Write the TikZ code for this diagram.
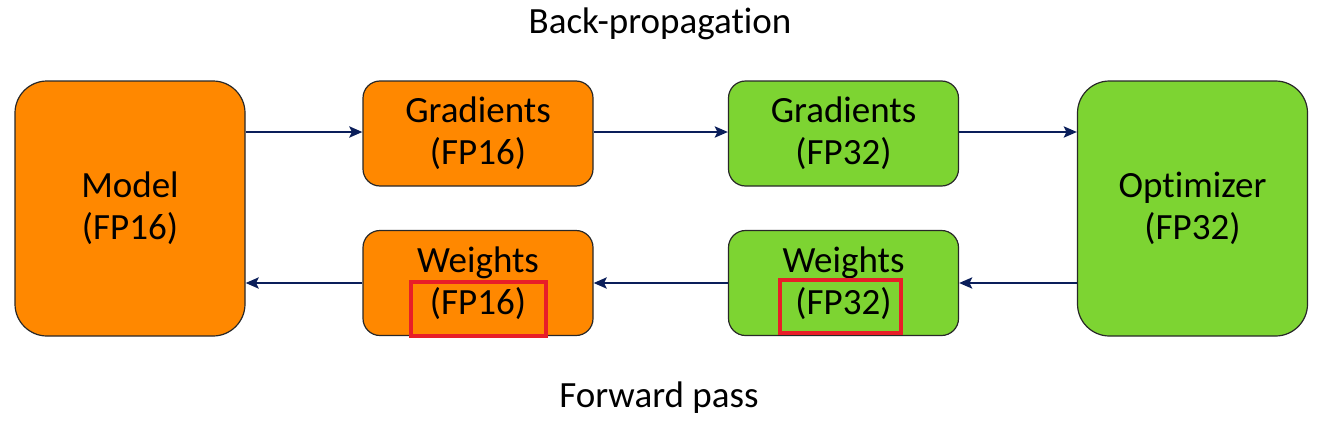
\documentclass[tikz,border=0pt]{standalone}
\usepackage{fontspec}
\setmainfont{Carlito}[Ligatures=NoCommon]
\usetikzlibrary{arrows.meta}
\definecolor{boxorange}{RGB}{255,136,0}
\definecolor{boxgreen}{RGB}{125,212,50}
\definecolor{arrowblue}{RGB}{10,30,90}
\definecolor{hlred}{RGB}{232,30,40}
\definecolor{edgegray}{RGB}{40,40,40}
\begin{document}
\begin{tikzpicture}[x=1pt,y=-1pt,
  boxbase/.style={draw=edgegray, line width=1.2pt, align=center, inner sep=0pt,
    font=\fontsize{37}{42}\selectfont},
  bigbox/.style={boxbase, rounded corners=32pt, minimum width=230pt, minimum height=255pt},
  smallbox/.style={boxbase, rounded corners=17pt, minimum width=230pt, minimum height=105pt},
  orangefill/.style={fill=boxorange},
  greenfill/.style={fill=boxgreen},
  conn/.style={draw=arrowblue, line width=2.6pt, -{Stealth[length=13pt,width=11pt,inset=2.5pt]}},
  redbox/.style={draw=hlred, line width=4.5pt, inner sep=0pt},
  caption/.style={font=\fontsize{37}{42}\selectfont, anchor=base, inner sep=0pt}
]
\useasboundingbox (0,0) rectangle (1337,423);
\node[bigbox, orangefill] (model) at (130,208.5) {Model\\(FP16)};
\node[bigbox, greenfill] (opt) at (1192.5,208.5) {Optimizer\\(FP32)};
\node[smallbox, orangefill] (g16) at (478,133.5) {Gradients\\(FP16)};
\node[smallbox, greenfill] (g32) at (843.5,133.5) {Gradients\\(FP32)};
\node[smallbox, orangefill] (w16) at (478,283) {Weights\\(FP16)};
\node[smallbox, greenfill] (w32) at (843.5,283) {Weights\\(FP32)};
\node[redbox, minimum width=135pt, minimum height=54pt] (r16) at (478.5,309) {};
\node[redbox, minimum width=121pt, minimum height=53pt] (r32) at (840.5,306.5) {};
\node[caption] (bp) at (660,33) {Back-propagation};
\node[caption] (fp) at (659,407) {Forward pass};
\draw[conn] (model.east |- 0,132) -- (g16.west |- 0,132);
\draw[conn] (g16.east |- 0,132) -- (g32.west |- 0,132);
\draw[conn] (g32.east |- 0,132) -- (opt.west |- 0,132);
\draw[conn] (opt.west |- w32.east) -- (w32.east);
\draw[conn] (w32.west) -- (w16.east);
\draw[conn] (w16.west) -- (model.east |- w16.west);
\end{tikzpicture}
\end{document}
